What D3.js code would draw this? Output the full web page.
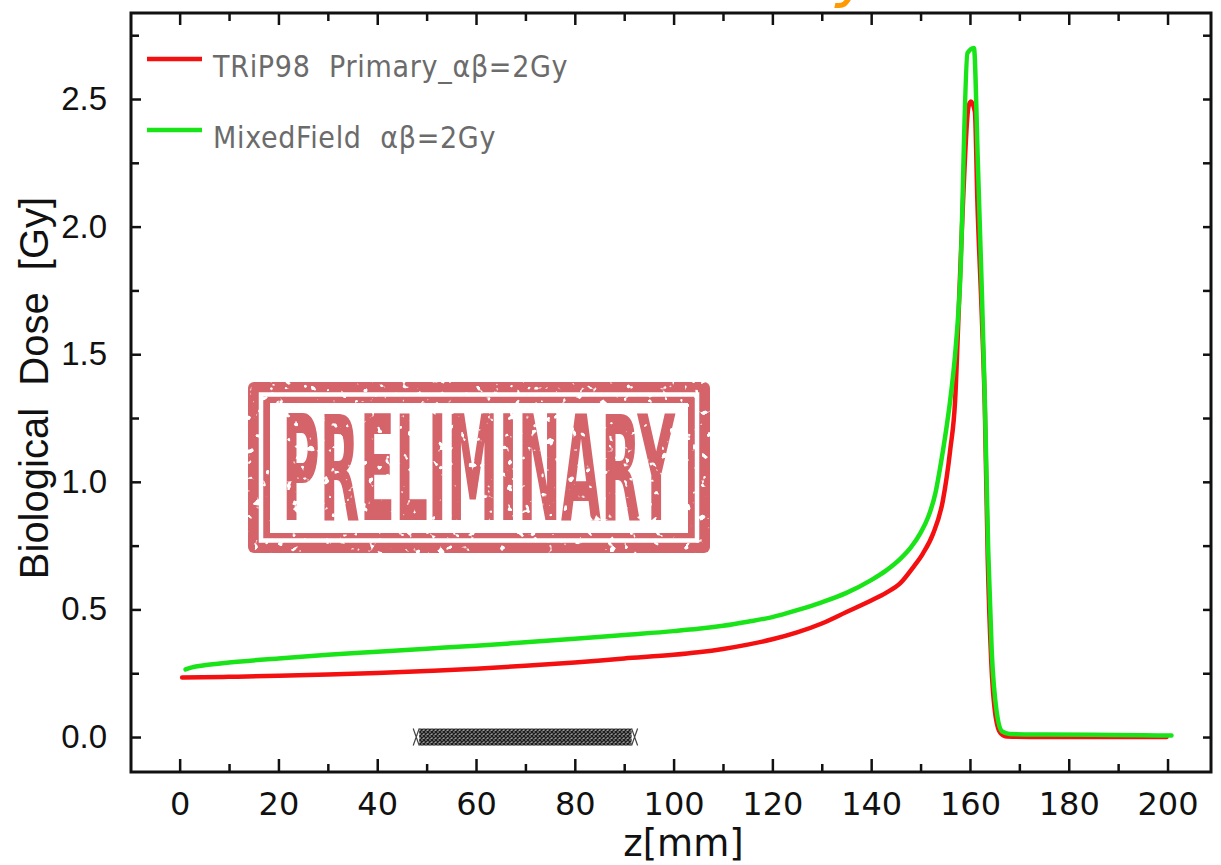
<!DOCTYPE html>
<html>
<head>
<meta charset="utf-8">
<script src="https://cdn.jsdelivr.net/npm/d3@7"></script>
<style>
  html, body { margin: 0; padding: 0; background: #fff; }
  svg { display: block; }
</style>
</head>
<body>
<div id="chart"></div>
<script>
// depth-dose data, z in mm, dose in Gy
const primaryZ = [0.5, 10, 20, 30, 40, 50, 60, 70, 80, 90, 100, 105, 110, 115, 120, 125, 130, 135, 140, 143, 146, 148.5, 150.5, 152.5, 154.5, 156, 157, 157.8, 158.6, 159.7, 160.2, 161, 161.5, 162.4, 163, 163.6, 164.3, 165.2, 166.2, 167.5, 175, 185, 199.8];
const primaryDose = [0.233, 0.236, 0.24, 0.245, 0.251, 0.259, 0.268, 0.279, 0.292, 0.308, 0.322, 0.332, 0.345, 0.362, 0.383, 0.41, 0.445, 0.49, 0.535, 0.565, 0.605, 0.665, 0.72, 0.795, 0.925, 1.125, 1.32, 1.71, 2.1, 2.47, 2.49, 2.45, 2.1, 1.65, 1.3, 0.7, 0.3, 0.08, 0.015, 0.002, 0.0, 0.0, 0.0];

const mixedZ = [1.2, 2.5, 5, 10, 20, 30, 40, 50, 60, 70, 80, 90, 100, 105, 110, 115, 120, 125, 130, 135, 140, 143, 146, 148, 150, 151.5, 153, 154, 155, 156, 157, 158, 159.5, 160.8, 161.6, 162.4, 163, 163.7, 164.4, 165.4, 166.5, 168, 175, 185, 195, 200.8];
const mixedDose = [0.265, 0.273, 0.281, 0.292, 0.308, 0.322, 0.334, 0.346, 0.358, 0.371, 0.385, 0.4, 0.415, 0.424, 0.436, 0.452, 0.47, 0.497, 0.528, 0.565, 0.615, 0.652, 0.7, 0.742, 0.8, 0.86, 0.955, 1.06, 1.18, 1.32, 1.5, 1.78, 2.68, 2.70, 2.25, 1.75, 1.33, 0.73, 0.34, 0.1, 0.022, 0.012, 0.01, 0.009, 0.007, 0.006];

// hatched target region on the z axis
const targetRange = [48.5, 91.5];

const xMajor = [0, 20, 40, 60, 80, 100, 120, 140, 160, 180, 200];
const xMinor = [10, 30, 50, 70, 90, 110, 130, 150, 170, 190];
const yMajor = [0, 0.5, 1.0, 1.5, 2.0, 2.5];
const yMinor = [0.25, 0.75, 1.25, 1.75, 2.25, 2.75];

const seriesNames = ["TRiP98  Primary_\u03b1\u03b2=2Gy", "MixedField  \u03b1\u03b2=2Gy"];
const seriesColors = ["#f41010", "#18e418"];

const WIDTH = 1221, HEIGHT = 865;
const LEFT = 131, RIGHT = 1211, TOP = 13, BOTTOM = 772;

const svg = d3.select("#chart").append("svg")
    .attr("width", WIDTH)
    .attr("height", HEIGHT);

const x = d3.scaleLinear().domain([-9.85, 208.8]).range([LEFT, RIGHT]);
const y = d3.scaleLinear().domain([-0.137, 2.837]).range([BOTTOM, TOP]);

const defs = svg.append("defs");

// orange fragment of a title that is cut off above the picture
svg.append("text")
    .attr("x", 836).attr("y", -6)
    .attr("font-family", "DejaVu Sans")
    .attr("font-style", "italic")
    .attr("font-size", 66)
    .attr("fill", "#ff9a00")
    .text("y");

// axes
function styleAxis(g) {
    g.select(".domain").remove();
    g.selectAll(".tick line").attr("stroke", "#111").attr("stroke-width", 2.5);
}

svg.append("g")
    .attr("transform", `translate(0,${BOTTOM})`)
    .call(d3.axisBottom(x).tickValues(xMajor).tickSizeInner(-13).tickSizeOuter(0).tickPadding(20).tickFormat(d3.format("d")))
    .call(styleAxis)
    .call(g => g.selectAll("text")
        .attr("font-family", "DejaVu Sans")
        .attr("font-size", 32)
        .attr("fill", "#111"));

svg.append("g")
    .attr("transform", `translate(0,${BOTTOM})`)
    .call(d3.axisBottom(x).tickValues(xMinor).tickSizeInner(-8).tickSizeOuter(0).tickFormat(""))
    .call(styleAxis);

svg.append("g")
    .attr("transform", `translate(0,${TOP})`)
    .call(d3.axisTop(x).tickValues(xMajor).tickSizeInner(-12).tickSizeOuter(0).tickFormat(""))
    .call(styleAxis);

svg.append("g")
    .attr("transform", `translate(0,${TOP})`)
    .call(d3.axisTop(x).tickValues(xMinor).tickSizeInner(-8).tickSizeOuter(0).tickFormat(""))
    .call(styleAxis);

svg.append("g")
    .attr("transform", `translate(${LEFT},0)`)
    .call(d3.axisLeft(y).tickValues(yMajor).tickSizeInner(-10).tickSizeOuter(0).tickPadding(24).tickFormat(d3.format(".1f")))
    .call(styleAxis)
    .call(g => g.selectAll("text")
        .attr("font-family", "Liberation Sans, Arial, sans-serif")
        .attr("font-size", 33)
        .attr("fill", "#111"));

svg.append("g")
    .attr("transform", `translate(${LEFT},0)`)
    .call(d3.axisLeft(y).tickValues(yMinor).tickSizeInner(-8).tickSizeOuter(0).tickFormat(""))
    .call(styleAxis);

svg.append("g")
    .attr("transform", `translate(${RIGHT},0)`)
    .call(d3.axisRight(y).tickValues(yMajor.concat(yMinor)).tickSizeInner(-8).tickSizeOuter(0).tickFormat(""))
    .call(styleAxis);

// frame
svg.append("rect")
    .attr("x", LEFT).attr("y", TOP)
    .attr("width", RIGHT - LEFT).attr("height", BOTTOM - TOP)
    .attr("fill", "none")
    .attr("stroke", "#111")
    .attr("stroke-width", 3);

// axis titles
svg.append("text")
    .attr("x", x(102)).attr("y", 856)
    .attr("text-anchor", "middle")
    .attr("font-family", "DejaVu Sans")
    .attr("font-size", 37)
    .attr("fill", "#111")
    .text("z[mm]");

svg.append("text")
    .attr("transform", `translate(48,${388}) rotate(-90)`)
    .attr("text-anchor", "middle")
    .attr("font-family", "Liberation Sans, Arial, sans-serif")
    .attr("font-size", 40)
    .attr("fill", "#111")
    .style("white-space", "pre")
    .text("Biological  Dose  [Gy]");

// PRELIMINARY stamp, with a worn look from a noise filter
const grunge = defs.append("filter")
    .attr("id", "grunge")
    .attr("x", 0).attr("y", 0).attr("width", 1).attr("height", 1);
grunge.append("feTurbulence")
    .attr("type", "fractalNoise")
    .attr("baseFrequency", 0.13)
    .attr("numOctaves", 2)
    .attr("seed", 7)
    .attr("result", "noise");
grunge.append("feColorMatrix")
    .attr("in", "noise")
    .attr("type", "matrix")
    .attr("values", "0 0 0 0 0  0 0 0 0 0  0 0 0 0 0  -16 0 0 0 11.6")
    .attr("result", "mask");
grunge.append("feComposite")
    .attr("in", "SourceGraphic")
    .attr("in2", "mask")
    .attr("operator", "in");

const stampRed = "#d5636b";
const stamp = svg.append("g").attr("filter", "url(#grunge)");
stamp.append("rect")
    .attr("x", 248).attr("y", 382).attr("width", 462).attr("height", 171)
    .attr("rx", 6).attr("fill", stampRed);
stamp.append("rect")
    .attr("x", 261).attr("y", 394.5).attr("width", 436).attr("height", 146)
    .attr("fill", "none").attr("stroke", "#fff").attr("stroke-width", 4.5);
stamp.append("rect")
    .attr("x", 270).attr("y", 403).attr("width", 418).attr("height", 130)
    .attr("fill", "#fff");
const stampText = stamp.append("text")
    .attr("font-family", "DejaVu Sans Condensed, DejaVu Sans")
    .attr("font-weight", "bold")
    .attr("font-size", 147)
    .attr("fill", stampRed)
    .text("PRELIMINARY");
const naturalW = stampText.node().getComputedTextLength();
stampText.attr("transform", `translate(282,520) scale(${393 / naturalW},1)`);

// hatched target band
const pat = defs.append("pattern")
    .attr("id", "xhatch")
    .attr("patternUnits", "userSpaceOnUse")
    .attr("width", 4).attr("height", 4);
pat.append("rect").attr("width", 4).attr("height", 4).attr("fill", "#9a9a9a");
pat.append("path").attr("d", "M0,0L4,4M4,0L0,4")
    .attr("stroke", "#1e1e1e").attr("stroke-width", 1.4);

const bandTop = y(0) - 8.5, bandBot = y(0) + 8.5;
svg.append("rect")
    .attr("x", x(targetRange[0])).attr("y", bandTop)
    .attr("width", x(targetRange[1]) - x(targetRange[0]))
    .attr("height", bandBot - bandTop)
    .attr("fill", "url(#xhatch)");
targetRange.forEach((z, i) => {
    const s = i === 0 ? -1 : 1;
    svg.append("path")
        .attr("d", `M${x(z)},${bandTop}L${x(z) + s * 6},${bandBot}M${x(z)},${bandBot}L${x(z) + s * 6},${bandTop}`)
        .attr("stroke", "#444").attr("stroke-width", 1.2).attr("fill", "none");
});

// curves
const line = d3.line()
    .x(d => x(d[0]))
    .y(d => y(d[1]))
    .curve(d3.curveMonotoneX);

const series = [
    d3.zip(primaryZ, primaryDose),
    d3.zip(mixedZ, mixedDose)
];

svg.selectAll("path.curve")
    .data(series)
    .enter()
    .append("path")
    .attr("class", "curve")
    .attr("d", line)
    .attr("fill", "none")
    .attr("stroke", (d, i) => seriesColors[i])
    .attr("stroke-width", 4.5)
    .attr("stroke-linejoin", "round")
    .attr("stroke-linecap", "round");

// legend
const legendY = [59, 130];
const legend = svg.selectAll("g.legend")
    .data(seriesNames)
    .enter()
    .append("g")
    .attr("class", "legend")
    .attr("transform", (d, i) => `translate(0,${legendY[i]})`);

legend.append("line")
    .attr("x1", 147).attr("x2", 202)
    .attr("stroke", (d, i) => seriesColors[i])
    .attr("stroke-width", 4.5);

legend.append("text")
    .attr("x", 213).attr("y", 18)
    .attr("font-family", "DejaVu Sans Condensed, DejaVu Sans")
    .attr("font-size", 30)
    .attr("letter-spacing", 0.7)
    .attr("fill", "#6b6b6b")
    .style("white-space", "pre")
    .text(d => d);
</script>
</body>
</html>
